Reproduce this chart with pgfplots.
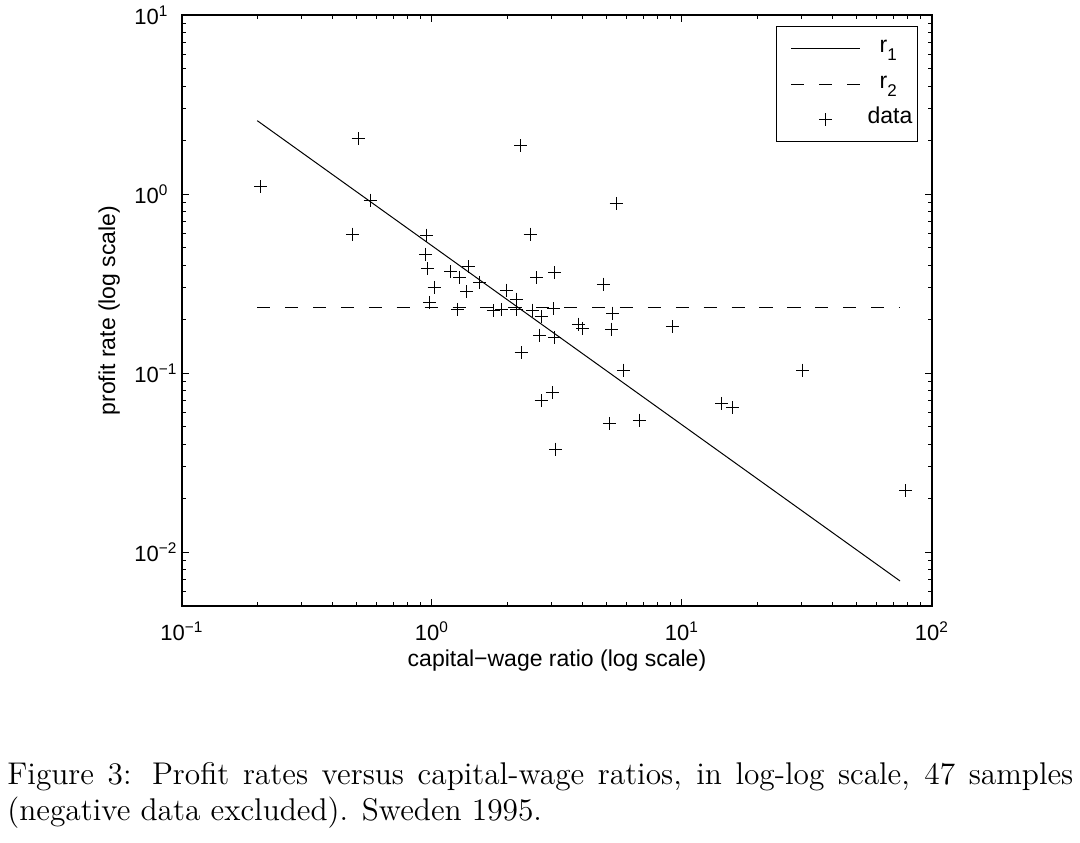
\documentclass[border=0pt]{standalone}
\usepackage{fontspec}
\newfontfamily\arial{Liberation Sans}
\usepackage{pgfplots}
\pgfplotsset{compat=1.18}
\pgfplotsset{
  lineleg/.style={legend image code/.code={\draw[##1] (0pt,0pt) -- (34.5pt,0pt);}},
  dashleg/.style={legend image code/.code={\draw[##1, dash pattern=on 6.5pt off 7.5pt] (0pt,0pt) -- (34.5pt,0pt);}},
  markleg/.style={legend image code/.code={\draw[##1, mark repeat=2, mark phase=2] plot coordinates {(0pt,0pt) (17.25pt,0pt) (34.5pt,0pt)};}},
}
\newcommand\sub[1]{\raisebox{-4pt}{\fontsize{8.5}{10}\selectfont #1}}
\begin{document}
\begin{tikzpicture}
\useasboundingbox (0,0) rectangle (540pt,421pt);
\begin{axis}[
  at={(91pt,118pt)}, anchor=south west,
  scale only axis, width=375pt, height=295.5pt,
  xmode=log, ymode=log,
  xmin=0.1, xmax=100, ymin=0.005, ymax=10,
  xtick={0.1,1,10,100},
  xticklabels={10\textsuperscript{−1},10\textsuperscript{0},10\textsuperscript{1},10\textsuperscript{2}},
  ytick={0.01,0.1,1,10},
  yticklabels={10\textsuperscript{−2},10\textsuperscript{−1},10\textsuperscript{0},10\textsuperscript{1}},
  minor xtick={0.2,0.3,0.4,0.5,0.6,0.7,0.8,0.9,2,3,4,5,6,7,8,9,20,30,40,50,60,70,80,90},
  minor ytick={0.006,0.007,0.008,0.009,0.02,0.03,0.04,0.05,0.06,0.07,0.08,0.09,0.2,0.3,0.4,0.5,0.6,0.7,0.8,0.9,2,3,4,5,6,7,8,9},
  tick align=inside, tick pos=both,
  major tick length=3.5pt, minor tick length=2pt,
  every tick/.style={line width=0.5pt, black},
  axis line style={line width=0.6pt},
  ticklabel style={font=\arial\fontsize{11}{13}\selectfont},
  xticklabel style={anchor=base, yshift=-17pt},
  yticklabel style={anchor=west, inner sep=0pt, xshift=-24pt},
  xlabel={capital−wage ratio (log scale)},
  ylabel={profit rate (log scale)},
  label style={font=\arial\fontsize{11.5}{13}\selectfont},
  xlabel style={at={(axis description cs:0.5,-0.1032)}, anchor=base},
  ylabel style={at={(axis description cs:-0.0893,0.5)}, anchor=base},
  legend style={at={(axis description cs:0.9813,0.9814)}, anchor=north east, draw=black, line width=0.6pt,
    font=\arial\fontsize{11.5}{13}\selectfont, cells={anchor=west},
    nodes={inner xsep=0pt, inner ysep=0pt, text height=9pt, text depth=5pt},
    row sep=3.75pt, inner xsep=7pt, inner ysep=4pt},
]
\addplot[black, line width=0.5pt, lineleg]
  coordinates {(0.2,2.57) (74.5,0.0069)};
\addlegendentry{\hspace*{9.5pt}r\sub{1}}
\addplot[black, line width=0.5pt, dash pattern=on 6.6pt off 7.35pt, dashleg]
  coordinates {(0.2,0.231) (74.5,0.231)};
\addlegendentry{\hspace*{9.5pt}r\sub{2}}
\addplot[black, only marks, mark=+, mark size=3.25pt, line width=0.5pt, markleg]
  table {
x y
0.207 1.10
0.507 2.03
0.565 0.926
0.48 0.598
0.952 0.59
0.944 0.462
0.961 0.384
1.02 0.301
0.98 0.248
2.26 1.86
5.45 0.887
2.47 0.598
1.19 0.368
1.29 0.34
1.40 0.393
1.55 0.32
1.38 0.284
2.62 0.34
3.10 0.363
4.85 0.314
1.99 0.291
2.18 0.259
1.27 0.227
1.76 0.223
1.90 0.227
2.18 0.227
2.53 0.225
3.06 0.229
2.75 0.206
5.28 0.216
3.85 0.188
4.01 0.178
5.23 0.176
2.70 0.163
3.10 0.158
2.27 0.130
5.83 0.104
3.03 0.0776
2.73 0.070
5.12 0.0524
6.75 0.0546
3.13 0.0376
9.15 0.181
30.4 0.104
14.4 0.0677
15.9 0.064
78.5 0.022
};
\addlegendentry{\hspace*{3.5pt}data\hspace*{-4.5pt}}
\end{axis}
\node[anchor=base west, inner sep=0pt] at (3.5pt,29pt)
  {\scalebox{1.266}{\fontsize{12.4}{15}\selectfont\makebox[421pt][s]{Figure 3: Profit rates versus capital-wage ratios, in log-log scale, 47 samples}}};
\node[anchor=base west, inner sep=0pt] at (3.5pt,11pt)
  {\scalebox{1.266}{\fontsize{12.4}{15}\selectfont (negative data excluded). Sweden 1995.}};
\end{tikzpicture}
\end{document}
